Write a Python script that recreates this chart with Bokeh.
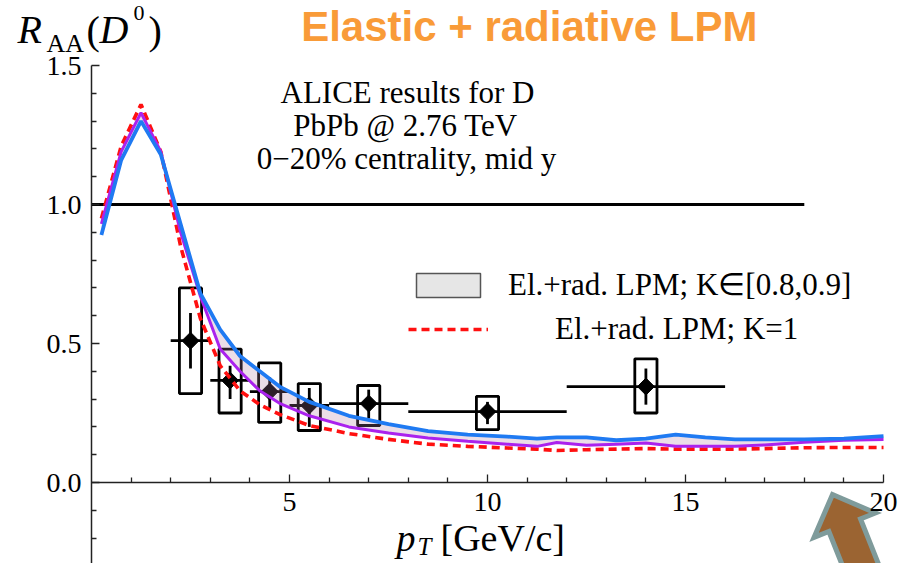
from bokeh.plotting import figure
from bokeh.models import Range1d, LinearAxis, FixedTicker, Label, Legend, LegendItem, ColumnDataSource
from bokeh.embed import file_html
from bokeh.resources import INLINE

# ---- model curves: R_AA(D0) vs pT for elastic + radiative (LPM) energy loss ----
pt_model = [0.25, 0.75, 1.25, 1.75, 2.25, 2.75, 3.25, 3.75, 4.25, 4.75, 5.5, 6.5,
            7.5, 8.5, 9.5, 10.5, 11.25, 11.75, 12.5, 13.25, 14.0, 14.75, 15.5,
            16.25, 17.0, 18.0, 19.0, 20.0]
raa_k08 = [0.89, 1.16, 1.30, 1.18, 0.93, 0.68, 0.55, 0.455, 0.40, 0.345, 0.29, 0.24,
           0.21, 0.185, 0.172, 0.165, 0.158, 0.162, 0.162, 0.152, 0.158, 0.172, 0.162,
           0.155, 0.155, 0.155, 0.158, 0.167]
raa_k09 = [0.93, 1.19, 1.33, 1.19, 0.90, 0.67, 0.48, 0.40, 0.33, 0.285, 0.24, 0.20,
           0.178, 0.16, 0.148, 0.138, 0.13, 0.144, 0.134, 0.138, 0.142, 0.13, 0.13,
           0.13, 0.135, 0.145, 0.152, 0.155]
raa_k1 = [0.95, 1.21, 1.36, 1.19, 0.85, 0.59, 0.42, 0.33, 0.28, 0.245, 0.205, 0.176,
          0.155, 0.138, 0.13, 0.124, 0.12, 0.115, 0.118, 0.12, 0.122, 0.12, 0.12,
          0.12, 0.122, 0.125, 0.126, 0.126]

# ---- ALICE D0, PbPb 2.76 TeV, 0-20% ----
pt_data = [2.5, 3.5, 4.5, 5.5, 7.0, 10.0, 14.0]
pt_lo = [2, 3, 4, 5, 6, 8, 12]
pt_hi = [3, 4, 5, 6, 8, 12, 16]
raa_data = [0.51, 0.367, 0.327, 0.277, 0.284, 0.255, 0.345]
stat_lo = [0.41, 0.30, 0.266, 0.20, 0.23, 0.21, 0.28]
stat_hi = [0.61, 0.42, 0.378, 0.34, 0.334, 0.29, 0.41]
sys_lo = [0.32, 0.25, 0.216, 0.187, 0.205, 0.19, 0.25]
sys_hi = [0.70, 0.48, 0.43, 0.356, 0.349, 0.31, 0.445]

# reference line R_AA = 1
ref_pt = [0, 18]
ref_raa = [1, 1]

x_major = [5, 10, 15, 20]
x_minor = [v for v in range(1, 20) if v % 5]
y_major = [0.0, 0.5, 1.0, 1.5]
y_minor = [-0.2, -0.1, 0.1, 0.2, 0.3, 0.4, 0.6, 0.7, 0.8, 0.9, 1.1, 1.2, 1.3, 1.4]
y_tick_text = {0.0: "0.0", 0.5: "0.5", 1.0: "1.0", 1.5: "1.5"}

W, H = 909, 563
# canvas pixel layout of the axes
X0_PX, X_PER_UNIT = 91.0, 39.6
Y0_PX, Y_PER_UNIT = 482.0, 278.0


def dx(px):
    return (px - X0_PX) / X_PER_UNIT


def dy(py):
    return (Y0_PX - py) / Y_PER_UNIT


p = figure(width=W, height=H, output_backend="svg", toolbar_location=None,
           x_range=Range1d(dx(0), dx(W)), y_range=Range1d(dy(H), dy(0)),
           x_axis_type=None, y_axis_type=None,
           min_border=0, min_border_left=0, min_border_right=0,
           min_border_top=0, min_border_bottom=0)
p.outline_line_color = None
p.xgrid.visible = False
p.ygrid.visible = False
p.background_fill_color = "white"
p.border_fill_color = "white"

serif = "Liberation Serif"

# axes crossing at the origin
xaxis = LinearAxis(fixed_location=0, bounds=(0, 20),
                   ticker=FixedTicker(ticks=x_major, minor_ticks=x_minor))
yaxis = LinearAxis(fixed_location=0, bounds=(-0.3, 1.5),
                   ticker=FixedTicker(ticks=y_major, minor_ticks=y_minor),
                   major_label_overrides=y_tick_text)
for ax in (xaxis, yaxis):
    ax.axis_line_color = "#222222"
    ax.axis_line_width = 1.5
    ax.major_tick_in = 8
    ax.major_tick_out = 0
    ax.minor_tick_in = 5
    ax.minor_tick_out = 0
    ax.major_tick_line_color = "#222222"
    ax.minor_tick_line_color = "#222222"
    ax.major_tick_line_width = 1.3
    ax.minor_tick_line_width = 1.3
    ax.major_label_text_font = serif
    ax.major_label_text_font_size = "28px"
    ax.major_label_text_color = "black"
    ax.major_label_standoff = 10
p.add_layout(xaxis, "below")
p.add_layout(yaxis, "left")

# R_AA = 1
p.line(ref_pt, ref_raa, line_color="black", line_width=3)

# data: systematic boxes, bin widths, statistical bars, points
data = ColumnDataSource(dict(pt=pt_data, lo=pt_lo, hi=pt_hi, raa=raa_data,
                             slo=stat_lo, shi=stat_hi,
                             blo=sys_lo, bhi=sys_hi,
                             bl=[v - 0.28 for v in pt_data],
                             br=[v + 0.28 for v in pt_data]))
p.quad(left="bl", right="br", bottom="blo", top="bhi", source=data,
       fill_alpha=0, line_color="black", line_width=2.8)
p.segment(x0="lo", x1="hi", y0="raa", y1="raa", source=data,
          line_color="black", line_width=2.8)
p.segment(x0="pt", x1="pt", y0="slo", y1="shi", source=data,
          line_color="black", line_width=2.8)
p.scatter(x="pt", y="raa", source=data, marker="square", angle=0.785398,
          size=12, fill_color="black", line_color="black")

# model band K in [0.8, 0.9] and K = 1
p.varea(x=pt_model, y1=raa_k09, y2=raa_k08, fill_color="#b07aa0", fill_alpha=0.25)
red = p.line(pt_model, raa_k1, line_color="#ff1010", line_width=3.6, line_dash="8 5")
p.line(pt_model, raa_k09, line_color="#aa22ee", line_width=3)
p.line(pt_model, raa_k08, line_color="#1f7af2", line_width=3.8)

# legend key for the band (no visible geometry of its own)
nan = float("nan")
band_key = p.quad(left=[nan], right=[nan], bottom=[nan], top=[nan],
                  fill_color="#e6e6e6", line_color="#555555", line_width=1.5)

legend_style = dict(orientation="vertical", glyph_width=80, glyph_height=30,
                    label_height=30, padding=0, margin=0,
                    border_line_alpha=0, background_fill_alpha=0,
                    label_text_font=serif, label_text_font_size="31px",
                    label_text_color="black", label_text_baseline="middle")
legend_band = Legend(items=[LegendItem(label="El.+rad. LPM; K\u2208[0.8,0.9]",
                                       renderers=[band_key])],
                     location=(408, 260), label_standoff=20, **legend_style)
legend_k1 = Legend(items=[LegendItem(label="El.+rad. LPM; K=1", renderers=[red])],
                   location=(408, 216), label_standoff=67, **legend_style)
p.add_layout(legend_band)
p.add_layout(legend_k1)


def text(px, py, s, size, font=serif, style="normal", color="black", align="left"):
    """Place a text whose vertical centre sits at canvas pixel row py."""
    p.add_layout(Label(x=dx(px), y=dy(py), text=s, text_font=font,
                       text_font_size=f"{size}px", text_font_style=style,
                       text_color=color, text_align=align, text_baseline="middle"))


# annotation block
text(407, 92, "ALICE results for D", 31, align="center")
text(405, 125, "PbPb @ 2.76 TeV", 31, align="center")
text(406, 158, "0\u221220% centrality, mid y", 31, align="center")

# y-axis title R_AA(D^0)
text(17, 29, "R", 40, style="italic")
text(46, 43, "AA", 26)
text(86, 30, "(", 40)
text(99, 29, "D", 40, style="italic")
text(133, 12, "0", 22)
text(148, 30, ")", 40)

# x-axis title p_T [GeV/c]
text(396, 537, "p", 38, style="italic")
text(417, 546, "T", 25, style="italic")
text(440, 537, "[GeV/c]", 38)

# slide heading
text(757, 26, "Elastic + radiative LPM", 42, font="Liberation Sans",
     style="bold", color="#f99b38", align="right")

# pointer arrow in the bottom-right corner
tip = (832.0, 494.0)
ax_dir = (0.37, 0.93)
perp = (0.93, -0.37)


def along(a, b):
    return (tip[0] + a * ax_dir[0] + b * perp[0], tip[1] + a * ax_dir[1] + b * perp[1])


arrow_px = [along(0, 0), along(33, 33), along(33, 17), along(130, 17),
            along(130, -17), along(33, -17), along(33, -33)]
p.patch([dx(a) for a, _ in arrow_px], [dy(b) for _, b in arrow_px],
        fill_color="#9b6432", line_color="#7f9b9b", line_width=5, line_join="miter")

open("out.html", "w").write(file_html(p, INLINE))
